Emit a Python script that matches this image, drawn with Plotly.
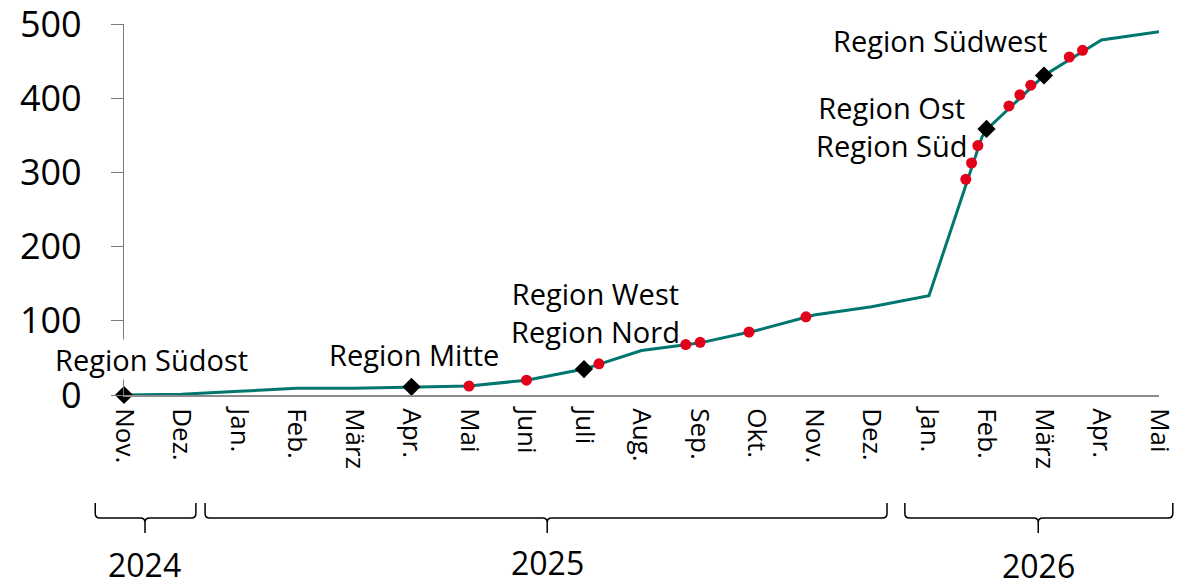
import plotly.graph_objects as go

# ---------------- data ----------------
months = ["Nov.", "Dez.", "Jan.", "Feb.", "März", "Apr.", "Mai", "Juni", "Juli", "Aug.",
          "Sep.", "Okt.", "Nov.", "Dez.", "Jan.", "Feb.", "März", "Apr.", "Mai"]
month_idx = list(range(len(months)))

# cumulative line (x = month index, fractional where the curve bends)
line_x = [0, 1, 2, 3, 4, 5, 6, 7, 8, 9, 10, 11, 12, 13, 14, 14.92, 15, 16, 17, 18]
line_y = [0, 1, 5, 9, 9, 11, 12, 20, 35, 60, 70, 87, 108, 119, 134, 348, 358, 431, 479, 490]

# red dots (events)
dot_x = [6.0, 7.0, 8.26, 9.77, 10.02, 10.87, 11.86, 14.64, 14.74, 14.85,
         15.39, 15.58, 15.77, 16.44, 16.67]
dot_y = [12, 20, 42, 68, 71, 85, 105.5, 291, 313, 336.5,
         390, 405, 418, 456, 465]

# black diamonds (regions)
dia_x = [0, 5, 8, 15, 16]
dia_y = [0, 11, 35, 359, 431]

region_text = ["Region Südost", "Region Mitte", "Region West<br>Region Nord",
               "Region Ost<br>Region Süd", "Region Südwest"]

years = ["2024", "2025", "2026"]

y_ticks = [0, 100, 200, 300, 400, 500]

# ---------------- style ----------------
TEAL = "#00766E"
RED = "#E3001B"
FONT = "Open Sans"
X_MAX = len(months) - 1

fig = go.Figure()
fig.add_trace(go.Scatter(x=line_x, y=line_y, mode="lines",
                         line=dict(color=TEAL, width=3), hoverinfo="skip",
                         showlegend=False))
fig.add_trace(go.Scatter(x=dot_x, y=dot_y, mode="markers",
                         marker=dict(color=RED, size=11, symbol="circle"),
                         cliponaxis=False, showlegend=False))
fig.add_trace(go.Scatter(x=dia_x, y=dia_y, mode="markers",
                         marker=dict(color="black", size=14, symbol="diamond"),
                         cliponaxis=False, showlegend=False))

# region label positions (layout)
label_pos = [(0.47, 48), (5.04, 54.5), (8.2, 111.2), (13.34, 362), (14.19, 478.8)]
annotations = []
for i, (txt, (lx, ly)) in enumerate(zip(region_text, label_pos)):
    annotations.append(dict(
        x=lx, y=ly, xref="x", yref="y", text=txt, showarrow=False,
        font=dict(family=FONT, size=29, color="black"),
        xanchor="center", yanchor="middle", align="center",
        bgcolor="white" if i == 0 else "rgba(0,0,0,0)", borderpad=0))

# year brackets (layout, in month-index units converted to paper x / paper y)
bracket_span = [(-0.5, 1.25, 0.365), (1.41, 13.27, 7.36), (13.58, 18.24, 15.9)]
year_label_y = [-0.456, -0.451, -0.46]
y_top, y_h, y_bot = -0.291, -0.3315, -0.372
r = 0.08 / X_MAX
rp = 0.012
shapes = []
for (x0, x1, xc), yr, yl in zip(bracket_span, years, year_label_y):
    p0, p1, pc = x0 / X_MAX, x1 / X_MAX, xc / X_MAX
    path = (f"M {p0},{y_top} L {p0},{y_h + rp} Q {p0},{y_h} {p0 + r},{y_h} "
            f"L {pc - r},{y_h} Q {pc},{y_h} {pc},{y_h - rp} L {pc},{y_bot} "
            f"M {pc},{y_h - rp} Q {pc},{y_h} {pc + r},{y_h} "
            f"L {p1 - r},{y_h} Q {p1},{y_h} {p1},{y_h + rp} L {p1},{y_top}")
    shapes.append(dict(type="path", path=path, xref="paper", yref="paper",
                       line=dict(color="black", width=1.5)))
    annotations.append(dict(x=xc, y=yl, xref="x", yref="paper", text=yr,
                            showarrow=False, xanchor="center", yanchor="middle",
                            font=dict(family=FONT, size=32, color="black")))

fig.update_layout(
    width=1188, height=580,
    margin=dict(l=124, r=29, t=24, b=185, autoexpand=False),
    paper_bgcolor="white", plot_bgcolor="white",
    font=dict(family=FONT, color="black"),
    annotations=annotations, shapes=shapes,
    xaxis=dict(range=[0, X_MAX], tickmode="array", tickvals=month_idx, ticktext=months,
               tickangle=90, showgrid=False, zeroline=False, showline=True,
               linecolor="#8C8C8C", linewidth=2, ticks="", automargin=False,
               tickfont=dict(family=FONT, size=26, color="black"),
               ticklabelstandoff=6, ticklabeloverflow="allow"),
    yaxis=dict(range=[0, 500.5], tickmode="array", tickvals=y_ticks,
               showgrid=False, zeroline=False, showline=True, automargin=False,
               linecolor="#7A7A7A", linewidth=1.3, ticks="outside", ticklen=12,
               tickcolor="#7A7A7A", tickwidth=1.3,
               tickfont=dict(family=FONT, size=36, color="black"),
               ticklabelstandoff=22, ticklabeloverflow="allow"),
)

fig.write_html("out.html", config={"displayModeBar": False},
               post_script="document.body.style.margin='0px';document.body.style.overflow='hidden';")
